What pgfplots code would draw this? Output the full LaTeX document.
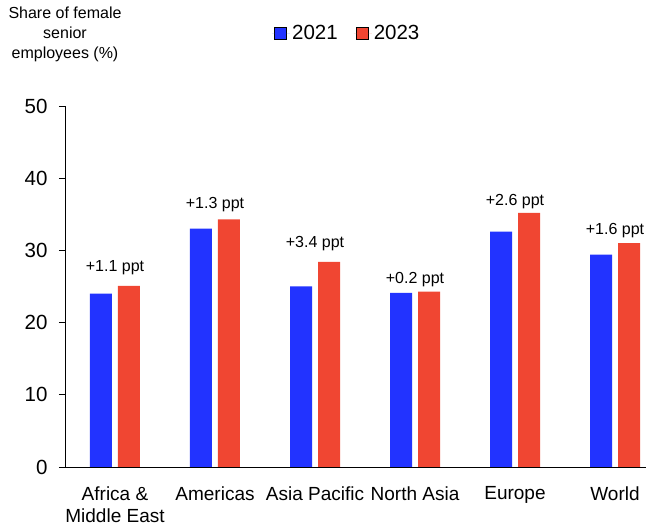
\documentclass[border=0pt]{standalone}
\usepackage{pgfplots}
\pgfplotsset{compat=1.18}
\usepackage{fontspec}
\setmainfont{Liberation Sans}
\definecolor{cblue}{HTML}{2233FF}
\definecolor{cred}{HTML}{F04632}
\begin{document}
\begin{tikzpicture}
\useasboundingbox (-65pt,-63pt) rectangle (581pt,467pt);
\begin{axis}[
  at={(0pt,0pt)}, anchor=south west,
  scale only axis, width=581pt, height=361pt,
  xmin=-0.5, xmax=5.31, ymin=0, ymax=50,
  axis x line*=bottom, axis y line*=left,
  axis line style={-, black, line width=0.8pt},
  ybar, bar width=22pt,
  ytick={0,10,20,30,40,50},
  xtick={0,1,2,3,4,5},
  xticklabels={{Africa \&\\Middle East},Americas,Asia Pacific,North Asia,Europe,World},
  x tick style={draw=none},
  extra x ticks={-0.5,0.5,1.5,2.5,3.5,4.5},
  extra x tick labels={},
  extra x tick style={tick style={draw=black, line width=0.8pt}, major tick length=6pt},
  tick align=outside,
  y tick style={black, line width=0.8pt},
  major tick length=6pt,
  /pgf/number format/assume math mode=true,
  yticklabel style={font=\fontsize{20.5}{24}\selectfont, xshift=-8pt},
  xticklabel style={font=\fontsize{19}{22}\selectfont, align=center, yshift=-10pt},
  legend style={draw=none, fill=none, at={(0.485,1.202)}, anchor=center,
    font=\fontsize{20.5}{24}\selectfont, legend columns=-1,
    /tikz/every even column/.append style={column sep=14pt}},
  legend image code/.code={\draw[#1] (0pt,-6pt) rectangle (12pt,6pt); \path (-2pt,0pt) -- (16pt,0pt);},
  clip=false,
]
\addplot[fill=cblue, draw=none, bar shift=-14pt] coordinates {(0,24.0) (1,33.0) (2,25.0) (3,24.1) (4,32.6) (5,29.4)};
\addplot[fill=cred, draw=none, bar shift=14pt] coordinates {(0,25.1) (1,34.3) (2,28.4) (3,24.3) (4,35.2) (5,31.0)};
\legend{2021,2023}
\begin{scope}[every node/.style={font=\fontsize{16}{19}\selectfont, anchor=center, inner sep=0pt}]
\node at (axis cs:0,27.6) {+1.1 ppt};
\node at (axis cs:1,36.4) {+1.3 ppt};
\node at (axis cs:2,31.0) {+3.4 ppt};
\node at (axis cs:3,25.9) {+0.2 ppt};
\node at (axis cs:4,36.8) {+2.6 ppt};
\node at (axis cs:5,32.7) {+1.6 ppt};
\end{scope}
\end{axis}
\node[align=center, font=\fontsize{16}{20}\selectfont] at (0pt,433pt) {Share of female\\senior\\employees (\%)};
\end{tikzpicture}
\end{document}
